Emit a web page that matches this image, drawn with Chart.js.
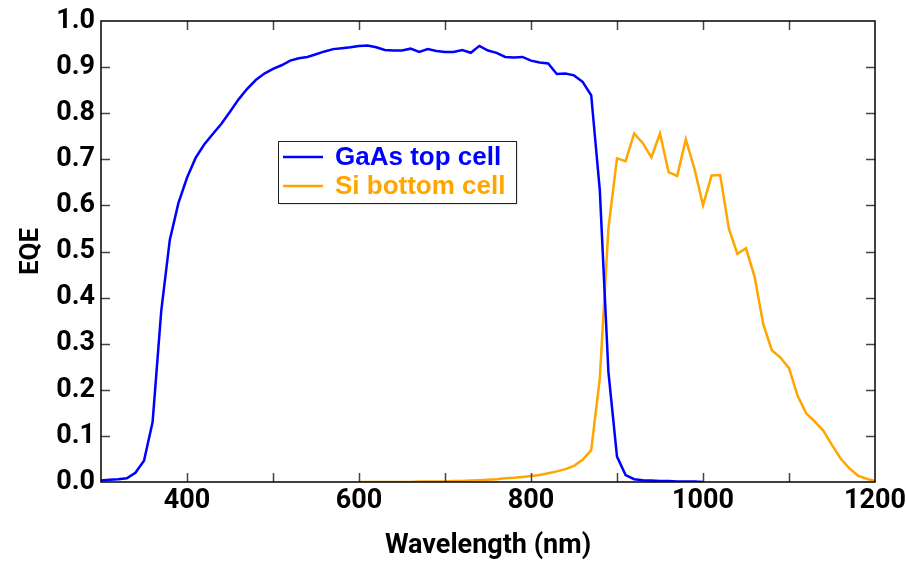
<!DOCTYPE html>
<html>
<head>
<meta charset="utf-8">
<script src="https://cdn.jsdelivr.net/npm/chart.js@4.4.1/dist/chart.umd.min.js"></script>
<style>
  html, body { margin: 0; padding: 0; background: #ffffff; }
  #wrap { width: 906px; height: 562px; }
  canvas { display: block; }
</style>
</head>
<body>
<div id="wrap"><canvas id="c" width="906" height="562" style="width:906px;height:562px"></canvas></div>
<script>
// Wavelength grid (nm) and external quantum efficiency of each sub-cell
const gaasWavelengths = [300,310,320,330,340,350,360,370,380,390,
  400,410,420,430,440,450,460,470,480,490,
  500,510,520,530,540,550,560,570,580,590,
  600,610,620,630,640,650,660,670,680,690,
  700,710,720,730,740,750,760,770,780,790,
  800,810,820,830,840,850,860,870,880,890,
  900,910,920,930,940,950,960,970,980,990,1000];
const gaasEqe = [0.003,0.005,0.006,0.008,0.020,0.046,0.130,0.370,0.525,0.605,
  0.660,0.703,0.732,0.755,0.777,0.803,0.830,0.853,0.872,0.886,
  0.896,0.904,0.914,0.919,0.922,0.928,0.934,0.939,0.941,0.943,
  0.946,0.947,0.943,0.937,0.936,0.936,0.940,0.933,0.939,0.935,
  0.933,0.933,0.937,0.931,0.946,0.936,0.931,0.922,0.921,0.922,
  0.914,0.910,0.908,0.885,0.886,0.882,0.868,0.839,0.633,0.239,
  0.055,0.015,0.006,0.004,0.003,0.002,0.002,0.001,0.001,0.001,0.000];

const siWavelengths = [600,610,620,630,640,650,660,670,680,690,
  700,710,720,730,740,750,760,770,780,790,
  800,810,820,830,840,850,860,870,880,890,
  900,910,920,930,940,950,960,970,980,990,
  1000,1010,1020,1030,1040,1050,1060,1070,1080,1090,
  1100,1110,1120,1130,1140,1150,1160,1170,1180,1190,1200];
const siEqe = [0.000,0.000,0.000,0.000,0.000,0.000,0.000,0.001,0.001,0.001,
  0.001,0.002,0.002,0.003,0.004,0.005,0.006,0.008,0.009,0.011,
  0.013,0.015,0.019,0.023,0.028,0.035,0.048,0.069,0.225,0.550,
  0.702,0.696,0.756,0.735,0.704,0.756,0.672,0.664,0.743,0.680,
  0.600,0.665,0.666,0.550,0.495,0.507,0.445,0.343,0.286,0.270,
  0.247,0.187,0.149,0.131,0.111,0.080,0.051,0.030,0.014,0.007,0.002];

const seriesLabels = ['GaAs top cell', 'Si bottom cell'];
const xTickLabels = ['400', '600', '800', '1000', '1200'];
const yTickLabels = ['0.0','0.1','0.2','0.3','0.4','0.5','0.6','0.7','0.8','0.9','1.0'];

const BLUE = '#0000ff';
const ORANGE = '#ffa500';
const axisFont = "Roboto, 'Liberation Sans', Arial, sans-serif";
const legendFont = "'Liberation Sans', Arial, sans-serif";

const toPoints = (xs, ys) => xs.map((x, i) => ({ x: x, y: ys[i] }));

// Frame around the plot area with inward-pointing ticks on all four sides
const framePlugin = {
  id: 'frame',
  afterDatasetsDraw(chart) {
    const { ctx, chartArea: a, scales } = chart;
    const len = 9;
    ctx.save();
    ctx.strokeStyle = '#444444';
    ctx.lineWidth = 1.5;
    ctx.beginPath();
    scales.x.ticks.forEach(t => {
      const px = Math.round(scales.x.getPixelForValue(t.value)) + 0.5;
      if (px <= a.left + 1 || px >= a.right - 1) return;
      ctx.moveTo(px, a.bottom); ctx.lineTo(px, a.bottom - len);
      ctx.moveTo(px, a.top); ctx.lineTo(px, a.top + len);
    });
    scales.y.ticks.forEach(t => {
      const py = Math.round(scales.y.getPixelForValue(t.value)) + 0.5;
      if (py <= a.top + 1 || py >= a.bottom - 1) return;
      ctx.moveTo(a.left, py); ctx.lineTo(a.left + len, py);
      ctx.moveTo(a.right, py); ctx.lineTo(a.right - len, py);
    });
    ctx.stroke();
    ctx.strokeStyle = '#000000';
    ctx.lineWidth = 1.5;
    ctx.strokeRect(a.left, a.top, a.right - a.left, a.bottom - a.top);
    ctx.restore();
  }
};

// Boxed legend placed inside the plot area
const boxLegendPlugin = {
  id: 'boxLegend',
  afterDraw(chart) {
    const { ctx, chartArea: a } = chart;
    const x = a.left + 177, y = a.top + 120, w = 238, h = 62;
    ctx.save();
    ctx.fillStyle = 'rgba(0,0,0,0.2)';
    ctx.fillRect(x + 1.5, y + 1.5, w, h);
    ctx.fillStyle = '#ffffff';
    ctx.fillRect(x, y, w, h);
    ctx.strokeStyle = '#222222';
    ctx.lineWidth = 1;
    ctx.strokeRect(x + 0.5, y + 0.5, w, h);
    ctx.font = "bold 26px " + legendFont;
    ctx.textBaseline = 'middle';
    chart.data.datasets.forEach((ds, i) => {
      const cy = y + 16 + i * 29;
      ctx.strokeStyle = ds.borderColor;
      ctx.lineWidth = 2.5;
      ctx.beginPath();
      ctx.moveTo(x + 5, cy); ctx.lineTo(x + 45, cy);
      ctx.stroke();
      ctx.fillStyle = ds.borderColor;
      ctx.fillText(ds.label, x + 57, cy + 1);
    });
    ctx.restore();
  }
};

new Chart(document.getElementById('c'), {
  type: 'line',
  data: {
    datasets: [
      { label: seriesLabels[0], data: toPoints(gaasWavelengths, gaasEqe),
        borderColor: BLUE, borderWidth: 2.5, pointRadius: 0, tension: 0, fill: false },
      { label: seriesLabels[1], data: toPoints(siWavelengths, siEqe),
        borderColor: ORANGE, borderWidth: 2.5, pointRadius: 0, tension: 0, fill: false }
    ]
  },
  options: {
    responsive: false,
    animation: false,
    devicePixelRatio: 1,
    layout: { padding: { top: 21, right: 31, left: 0, bottom: 0 } },
    plugins: { legend: { display: false }, tooltip: { enabled: false } },
    scales: {
      x: {
        type: 'linear', min: 300, max: 1200,
        grid: { display: false, drawTicks: false },
        border: { display: false },
        ticks: {
          stepSize: 100, autoSkip: false, maxRotation: 0, padding: 3,
          color: '#000000', font: { family: axisFont, size: 27, weight: 'bold' },
          callback: v => xTickLabels.includes(String(v)) ? String(v) : ''
        },
        title: { display: true, text: 'Wavelength (nm)', color: '#000000',
          font: { family: axisFont, size: 27, weight: 'bold' }, padding: { top: 0, bottom: 0 } },
        afterFit: s => { s.height = 80; s.paddingLeft = 0; s.paddingRight = 0; }
      },
      y: {
        min: 0, max: 1,
        grid: { display: false, drawTicks: false },
        border: { display: false },
        ticks: {
          stepSize: 0.1, padding: 6, color: '#000000',
          font: { family: axisFont, size: 27, weight: 'bold' },
          callback: v => yTickLabels[Math.round(v * 10)]
        },
        title: { display: true, text: 'EQE', color: '#000000',
          font: { family: axisFont, size: 26, weight: 'bold' }, padding: { top: 16, bottom: 0 } },
        afterFit: s => { s.width = 101; s.paddingTop = 0; s.paddingBottom = 0; }
      }
    }
  },
  plugins: [framePlugin, boxLegendPlugin]
});
</script>
</body>
</html>
